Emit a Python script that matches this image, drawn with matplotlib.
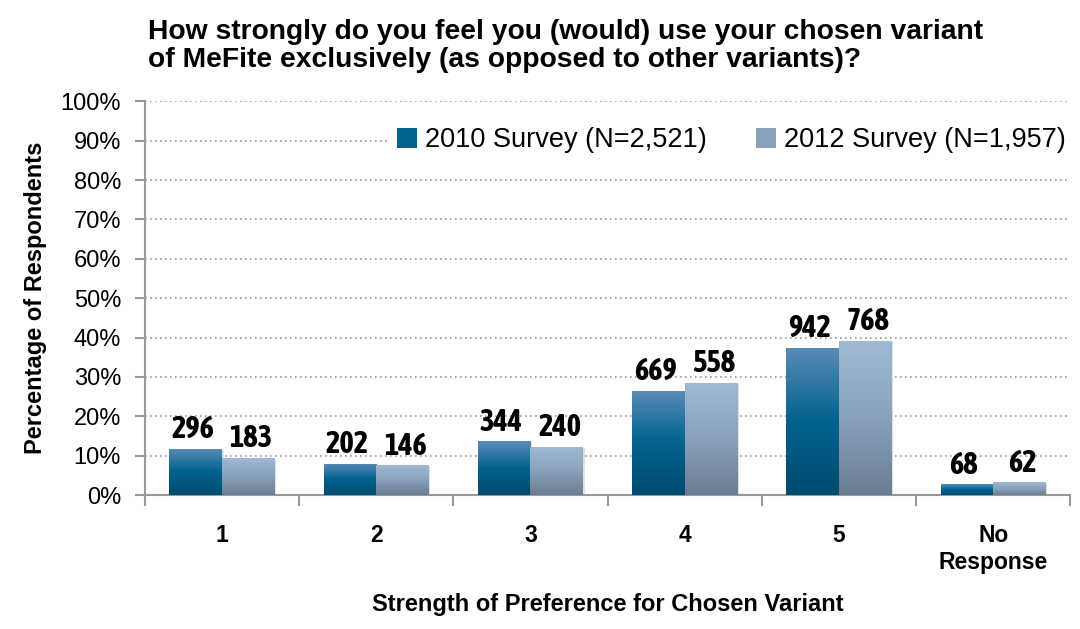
import numpy as np
import matplotlib.pyplot as plt
from matplotlib import font_manager
from matplotlib.colors import LinearSegmentedColormap
from matplotlib.patches import Rectangle

plt.rcParams['font.family'] = ['Liberation Sans', 'DejaVu Sans']

categories = ['1', '2', '3', '4', '5', 'No\nResponse']
pct_2010 = [11.7, 8.0, 13.6, 26.5, 37.4, 2.7]
pct_2012 = [9.4, 7.5, 12.3, 28.5, 39.2, 3.2]
count_2010 = [296, 202, 344, 669, 942, 68]
count_2012 = [183, 146, 240, 558, 768, 62]
series_names = ['2010 Survey (N=2,521)', '2012 Survey (N=1,957)']

# gradient colours, bottom -> top
cmap_2010 = LinearSegmentedColormap.from_list('c10', ['#004a6e', '#00628f', '#5b8cb6'])
cmap_2012 = LinearSegmentedColormap.from_list('c12', ['#6b7d92', '#8aa1bb', '#9fbad6'])

# look for a condensed bold face for the value labels
narrow = None
for f in font_manager.fontManager.ttflist:
    if ('Narrow' in f.name or 'Condensed' in f.name) and f.weight in ('bold', 700) \
            and f.style == 'normal':
        narrow = f.fname
        break

fig = plt.figure(figsize=(10.8, 6.29), dpi=100)
ax = fig.add_axes([0.134, 0.213, 0.857, 0.626])

x = np.arange(len(categories))
w = 0.34
grad = np.linspace(0, 1, 256).reshape(-1, 1)

def gradient_bars(xpos, vals, cmap):
    bars = ax.bar(xpos, vals, w, color='none', edgecolor='none', zorder=3)
    for b in bars:
        x0, y0 = b.get_x(), b.get_y()
        h = b.get_height()
        # soft shadow
        ax.add_patch(Rectangle((x0 + 0.012, y0), w, h - 0.3, facecolor='#000000',
                               alpha=0.12, edgecolor='none', zorder=2.5))
        im = ax.imshow(grad, cmap=cmap, aspect='auto', origin='lower',
                       extent=(x0, x0 + w, y0, y0 + h), zorder=3)
        im.set_clip_path(b)
    return bars

b1 = gradient_bars(x - w / 2, pct_2010, cmap_2010)
b2 = gradient_bars(x + w / 2, pct_2012, cmap_2012)

if narrow:
    lab_kw = dict(fontproperties=font_manager.FontProperties(fname=narrow, size=22))
else:
    lab_kw = dict(fontsize=20, fontweight='bold')

for xi, v, c in zip(x - w / 2, pct_2010, count_2010):
    ax.text(xi - 0.02, v + 0.9, str(c), ha='center', va='bottom', **lab_kw)
for xi, v, c in zip(x + w / 2, pct_2012, count_2012):
    ax.text(xi + 0.02, v + 0.9, str(c), ha='center', va='bottom', **lab_kw)

ax.set_xlim(-0.5, len(categories) - 0.5)
ax.set_ylim(0, 100)
ax.set_yticks(range(0, 101, 10))
ax.set_yticklabels([f'{t}%' for t in range(0, 101, 10)], fontsize=17)
ax.yaxis.grid(True, linestyle=(0, (1, 2)), color='#999999', linewidth=1.2, zorder=0)
ax.set_axisbelow(True)

ax.set_xticks(x)
ax.set_xticklabels(categories, fontsize=16.5, fontweight='bold')
ax.tick_params(axis='x', length=0, pad=21)
ax.set_xticks(np.arange(-0.5, len(categories)), minor=True)
ax.tick_params(axis='x', which='minor', length=8, color='#999999', width=1.5)
ax.tick_params(axis='y', length=7, color='#999999', width=1.5, pad=10)

for s in ['top', 'right']:
    ax.spines[s].set_visible(False)
for s in ['left', 'bottom']:
    ax.spines[s].set_color('#999999')
    ax.spines[s].set_linewidth(1.5)

ax.set_ylabel('Percentage of Respondents', fontsize=17, fontweight='bold', labelpad=10)
ax.set_xlabel('Strength of Preference for Chosen Variant', fontsize=17,
              fontweight='bold', labelpad=14)

handles = [Rectangle((0, 0), 1, 1, facecolor='#00628f'),
           Rectangle((0, 0), 1, 1, facecolor='#8aa1bb')]
leg = ax.legend(handles, series_names, loc='upper right', bbox_to_anchor=(1.004, 0.955),
                ncol=2, frameon=True, facecolor='white', edgecolor='none', framealpha=1,
                fancybox=False, fontsize=19.5, handlelength=0.75, handleheight=0.75,
                handletextpad=0.3, columnspacing=1.8, borderaxespad=0, borderpad=0.3)
leg.set_zorder(5)

fig.text(0.137, 0.884, 'How strongly do you feel you (would) use your chosen variant\n'
         'of MeFite exclusively (as opposed to other variants)?',
         fontsize=20.3, fontweight='bold', ha='left', va='bottom', linespacing=1.1)

fig.savefig('out.png', dpi=100)
